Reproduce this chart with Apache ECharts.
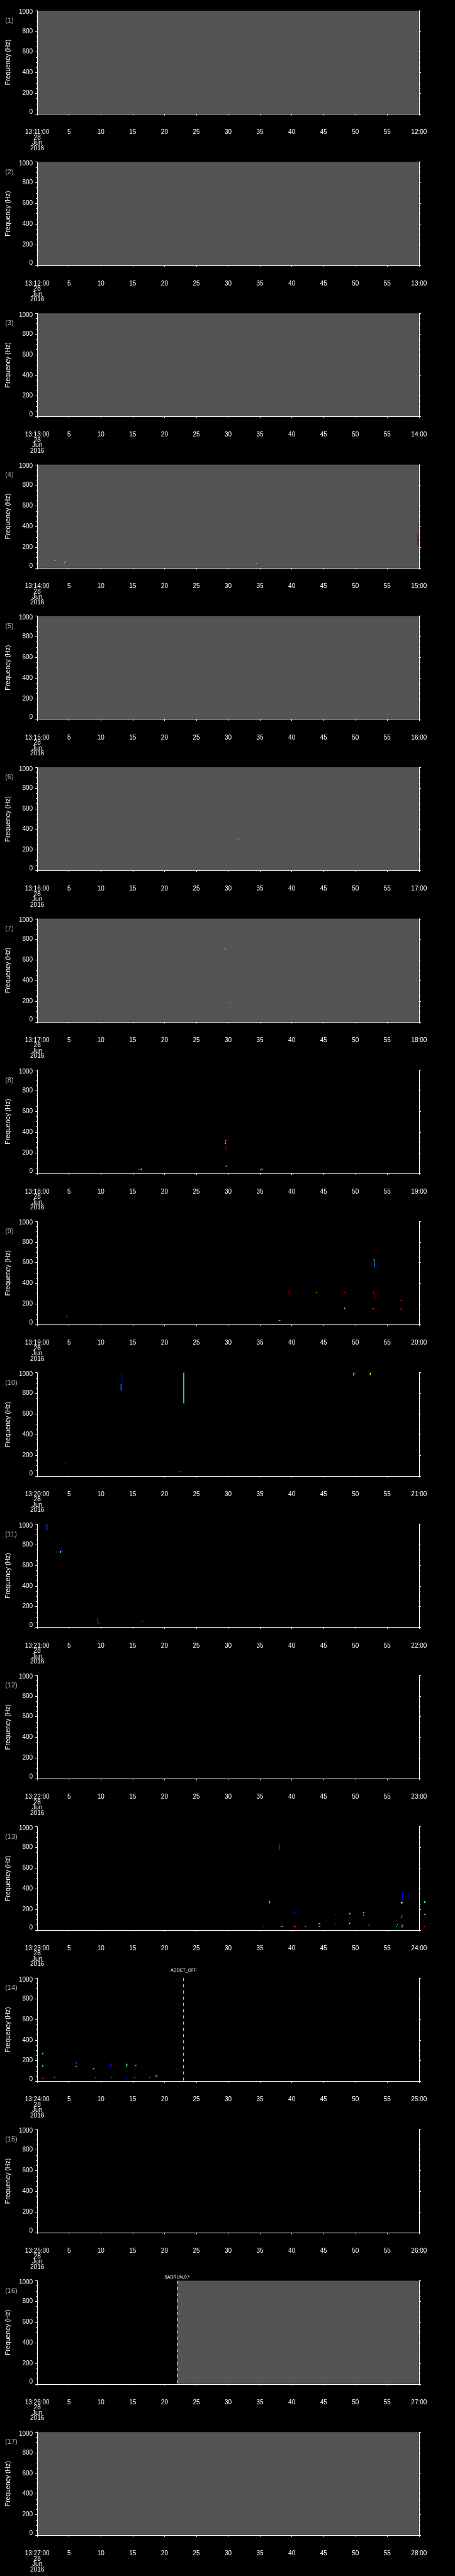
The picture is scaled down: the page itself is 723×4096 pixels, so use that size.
<!DOCTYPE html>
<html>
<head>
<meta charset="utf-8">
<script src="https://cdn.jsdelivr.net/npm/echarts@6/dist/echarts.min.js"></script>
<style>
  html, body { margin: 0; padding: 0; background: #000; }
  #main { width: 723px; height: 4096px; }
</style>
</head>
<body>
<div id="main"></div>
<script>
// one panel per minute, 13:11 .. 13:27, 28 Jun 2016
const hour = 13;
const startMinutes = [11, 12, 13, 14, 15, 16, 17, 18, 19, 20, 21, 22, 23, 24, 25, 26, 27];
const dateLines = ['28', 'Jun', '2016'];
const freqAxisName = 'Frequency (Hz)';

// grey = no spectrum, [start s, end s]
const grayRanges = [
  [[0, 60]], [[0, 60]], [[0, 60]], [[0, 60]], [[0, 60]], [[0, 60]], [[0, 60]],
  [], [], [], [], [], [], [], [],
  [[22, 60]],
  [[0, 60]]
];

// events: [panel index, second, text]
const events = [
  [13, 23, 'ADDET_OFF'],
  [15, 22, '$ADRUN,0,*']
];

// spectrogram pixels: [t0 s, t1 s, f0 Hz, f1 Hz, level 0..1]
const marks04 = [
  [2.7, 2.9, 65, 75, 0.375], [2.85, 3.0, 62, 68, 0.125],
  [4.3, 4.45, 45, 58, 0.6], [4.45, 4.7, 42, 47, 0.125],
  [33.9, 34.3, 42, 48, 0.875], [34.3, 34.55, 42, 48, 0.375],
  [59.75, 59.85, 232, 318, 1.0], [59.75, 60.3, 228, 236, 1.0],
  [59.9, 60.2, 72, 80, 0.2]
];
const marks06 = [
  [31.5, 31.7, 300, 310, 0.3]
];
const marks07 = [
  [29.4, 29.6, 700, 715, 0.3], [30.2, 30.4, 180, 190, 0.3]
];
const marks08 = [
  [29.55, 29.7, 312, 322, 0.375], [29.7, 29.8, 312, 322, 0.875],
  [29.5, 29.6, 285, 300, 0.6],
  [29.6, 29.7, 230, 275, 1.0], [29.6, 29.85, 228, 234, 1.0],
  [29.6, 29.8, 68, 74, 0.5],
  [15.9, 16.3, 38, 44, 0.875], [16.3, 16.5, 38, 44, 0.55],
  [35.0, 35.5, 38, 44, 0.8]
];
const marks09 = [
  [4.6, 4.7, 80, 92, 0.125], [4.6, 4.7, 73, 80, 0.75],
  [37.8, 38.0, 36, 42, 0.875], [38.0, 38.2, 38, 44, 0.375],
  [39.3, 39.45, 306, 314, 0.1], [39.45, 39.6, 306, 314, 0.875],
  [43.8, 44.0, 306, 314, 0.75],
  [48.2, 48.45, 306, 314, 0.9],
  [52.7, 53.0, 306, 314, 0.9], [52.9, 53.0, 241, 312, 1.0],
  [52.85, 52.95, 620, 634, 0.625], [52.9, 52.97, 556, 620, 0.25],
  [48.2, 48.35, 155, 164, 0.625], [48.3, 48.45, 150, 158, 0.3],
  [52.7, 52.85, 151, 159, 0.625], [52.85, 53.0, 151, 159, 0.875],
  [56.95, 57.2, 230, 236, 0.875], [57.2, 57.35, 230, 236, 0.2],
  [56.95, 57.1, 150, 158, 0.1], [57.1, 57.25, 150, 158, 0.875], [57.2, 57.3, 144, 152, 0.25]
];
const marks10 = [
  [4.25, 4.45, 115, 123, 0.15],
  [13.25, 13.3, 888, 1000, 0.02], [13.1, 13.25, 824, 890, 0.25],
  [22.95, 23.1, 705, 1000, 0.45],
  [22.2, 22.35, 40, 46, 0.875], [22.35, 22.8, 40, 46, 0.15],
  [49.65, 49.8, 970, 1000, 0.375], [49.8, 50.0, 990, 1000, 0.2],
  [52.25, 52.4, 980, 1000, 0.58]
];
const marks11 = [
  [1.45, 1.6, 941, 1000, 0.2],
  [3.55, 3.75, 723, 740, 0.45], [3.75, 4.0, 735, 748, 0.15],
  [9.45, 9.55, 39, 93, 0.9], [9.55, 9.85, 36, 42, 0.15],
  [16.45, 16.6, 55, 63, 0.25]
];
const marks13 = [
  [37.95, 38.1, 778, 829, 0.2],
  [36.45, 36.6, 259, 279, 0.375],
  [35.45, 35.6, 34, 40, 0.875], [35.6, 35.75, 34, 40, 0.15],
  [38.3, 38.45, 34, 40, 0.375], [38.45, 38.55, 34, 40, 0.6],
  [40.3, 40.55, 167, 173, 0.15],
  [40.3, 40.45, 31, 37, 0.875], [40.45, 40.55, 31, 37, 0.75],
  [42.05, 42.25, 31, 37, 0.75],
  [44.2, 44.5, 60, 66, 0.375],
  [44.25, 44.4, 31, 37, 0.75], [44.4, 44.5, 31, 37, 0.2],
  [46.75, 46.95, 146, 152, 0.15], [46.75, 46.95, 53, 59, 0.2],
  [49.05, 49.2, 148, 168, 0.375], [49.05, 49.3, 120, 126, 0.15],
  [49.0, 49.15, 59, 66, 0.6], [49.1, 49.25, 66, 75, 0.3],
  [51.2, 51.4, 164, 176, 0.375], [51.2, 51.3, 142, 148, 0.375],
  [52.05, 52.15, 40, 59, 0.9], [52.1, 52.3, 32, 38, 0.15],
  [57.35, 57.42, 274, 368, 0.08], [57.15, 57.4, 258, 274, 0.58],
  [57.15, 57.3, 113, 130, 0.3], [57.25, 57.4, 130, 150, 0.15],
  [56.55, 56.7, 52, 58, 0.5], [56.35, 56.5, 31, 37, 0.375],
  [57.25, 57.4, 23, 50, 0.75], [57.35, 57.5, 45, 51, 0.75],
  [56.9, 57.05, 22, 28, 0.15],
  [60.8, 61.0, 260, 279, 0.375], [60.75, 61.05, 148, 156, 0.5], [60.7, 61.0, 31, 37, 0.875]
];
const marks14 = [
  [0.8, 0.95, 260, 278, 0.375], [0.9, 1.0, 258, 266, 0.15],
  [0.75, 0.95, 146, 154, 0.6], [0.75, 0.85, 142, 148, 0.4],
  [0.7, 0.85, 30, 37, 0.875], [0.85, 1.0, 30, 35, 0.75],
  [2.6, 2.8, 37, 45, 0.375],
  [6.05, 6.25, 170, 184, 0.2], [6.0, 6.3, 140, 146, 0.7],
  [8.7, 8.85, 112, 126, 0.15], [8.8, 8.9, 122, 128, 0.62],
  [9.05, 9.15, 33, 39, 0.2],
  [11.45, 11.55, 146, 176, 0.15], [11.5, 11.7, 145, 150, 0.15],
  [11.55, 11.7, 36, 42, 0.25],
  [14.0, 14.1, 141, 169, 0.5], [14.05, 14.2, 165, 170, 0.3],
  [13.95, 14.15, 30, 35, 0.15],
  [15.3, 15.6, 149, 160, 0.3],
  [15.15, 15.35, 38, 44, 0.875], [15.35, 15.6, 35, 42, 0.15],
  [17.6, 17.8, 36, 44, 0.3],
  [18.55, 18.75, 50, 56, 0.62], [18.75, 19.0, 50, 55, 0.2]
];
const panelMarks = [[], [], [], marks04, [], marks06, marks07, marks08, marks09,
  marks10, marks11, [], marks13, marks14, [], [], []];

// ---- layout (reference px * 0.705)
const S = 0.705;
const gridLeft = 80.5 * S, gridWidth = 864 * S, gridHeight = 233 * S;
const top0 = 24 * S, step = 341.333 * S;
const xAxisDrop = 24 * S;
const eventLift = [12, 5.4];
const font = 'Liberation Sans, Arial, sans-serif';
const white = '#ffffff';

const grids = [], xAxes = [], yAxes = [], series = [], graphics = [], markSeriesIdx = [];

startMinutes.forEach((m, i) => {
  const top = top0 + i * step;
  grids.push({ left: gridLeft, top: top, width: gridWidth, height: gridHeight });

  xAxes.push({
    gridIndex: i, type: 'value', min: 0, max: 60, interval: 5, offset: xAxisDrop,
    axisLine: { lineStyle: { color: white, width: 1 } },
    axisTick: { length: 2.3, lineStyle: { color: white } },
    splitLine: { show: false },
    axisLabel: {
      color: white, fontSize: 10, fontFamily: font, margin: 8, lineHeight: 8.5,
      formatter: v => {
        if (v === 0) return hour + ':' + m + ':00\n' + dateLines.join('\n');
        if (v === 60) return (m + 1) + ':00';
        return String(v);
      }
    },
    z: 5
  });

  const yBase = {
    gridIndex: i, type: 'value', min: 0, max: 1000, interval: 200,
    axisLine: { show: true, lineStyle: { color: white, width: 1 } },
    axisTick: { show: true, length: 3, lineStyle: { color: white } },
    minorTick: { show: true, splitNumber: 4, length: 1.8, lineStyle: { color: white } },
    splitLine: { show: false }, minorSplitLine: { show: false },
    z: 5
  };
  yAxes.push(Object.assign({}, yBase, {
    position: 'left',
    name: freqAxisName, nameLocation: 'middle', nameGap: 37,
    nameTextStyle: { color: white, fontSize: 10.5, fontFamily: font },
    axisLabel: {
      color: white, fontSize: 10, fontFamily: font, margin: 7,
      formatter: v => v === 1000 ? '{hi|1000}' : (v === 0 ? '{lo|0}' : String(v)),
      rich: {
        hi: { color: white, fontSize: 10, fontFamily: font, padding: [5.4, 0, 0, 0] },
        lo: { color: white, fontSize: 10, fontFamily: font, padding: [0, 0, 6.6, 0] }
      }
    }
  }));
  yAxes.push(Object.assign({}, yBase, { position: 'right', axisLabel: { show: false } }));

  // grey background
  series.push({
    type: 'custom', xAxisIndex: i, yAxisIndex: 2 * i, z: 1, silent: true,
    data: grayRanges[i],
    renderItem: (params, api) => {
      const p0 = api.coord([api.value(0), 1000]);
      const p1 = api.coord([api.value(1), 0]);
      return { type: 'rect', shape: { x: p0[0], y: p0[1], width: p1[0] - p0[0], height: p1[1] - p0[1] },
        style: { fill: '#545454' } };
    }
  });

  // spectrogram pixels
  markSeriesIdx.push(series.length);
  series.push({
    type: 'custom', xAxisIndex: i, yAxisIndex: 2 * i, z: 3, silent: true, clip: false,
    data: panelMarks[i],
    renderItem: (params, api) => {
      const p0 = api.coord([api.value(0), api.value(3)]);
      const p1 = api.coord([api.value(1), api.value(2)]);
      return { type: 'rect',
        shape: { x: p0[0], y: p0[1], width: Math.max(p1[0] - p0[0], 1.4), height: Math.max(p1[1] - p0[1], 1.4) },
        style: { fill: api.visual('color') } };
    }
  });

  // panel number
  graphics.push({
    type: 'text', left: 8.2, top: top + 16.7 - 6,
    style: { text: '(' + (i + 1) + ')', fill: '#b4b4b4', font: '11px ' + font }
  });
});

// event lines
events.forEach((ev, k) => {
  const i = ev[0];
  series.push({
    type: 'custom', xAxisIndex: i, yAxisIndex: 2 * i, z: 4, silent: true, clip: false,
    data: [[ev[1]]],
    renderItem: (params, api) => {
      const pt = api.coord([api.value(0), 1000]);
      const pb = api.coord([api.value(0), 0]);
      return { type: 'group', children: [
        { type: 'line', shape: { x1: pt[0], y1: pt[1], x2: pb[0], y2: pb[1] },
          style: { stroke: white, lineWidth: 1, lineDash: [4.7, 5.2] } },
        { type: 'text', x: pt[0], y: pt[1] - eventLift[k],
          style: { text: ev[2], fill: white, font: '7px ' + font, align: 'center', verticalAlign: 'middle' } }
      ] };
    }
  });
});

const chart = echarts.init(document.getElementById('main'), null, { renderer: 'canvas' });
chart.setOption({
  backgroundColor: '#000000',
  animation: false,
  grid: grids,
  xAxis: xAxes,
  yAxis: yAxes,
  visualMap: {
    type: 'continuous', show: false, min: 0, max: 1, dimension: 4, seriesIndex: markSeriesIdx,
    inRange: { color: ['#00008f', '#0000ff', '#0080ff', '#00ffff', '#80ff80', '#ffff00', '#ff8000', '#ff0000', '#800000'] }
  },
  graphic: graphics,
  series: series
});
</script>
</body>
</html>
